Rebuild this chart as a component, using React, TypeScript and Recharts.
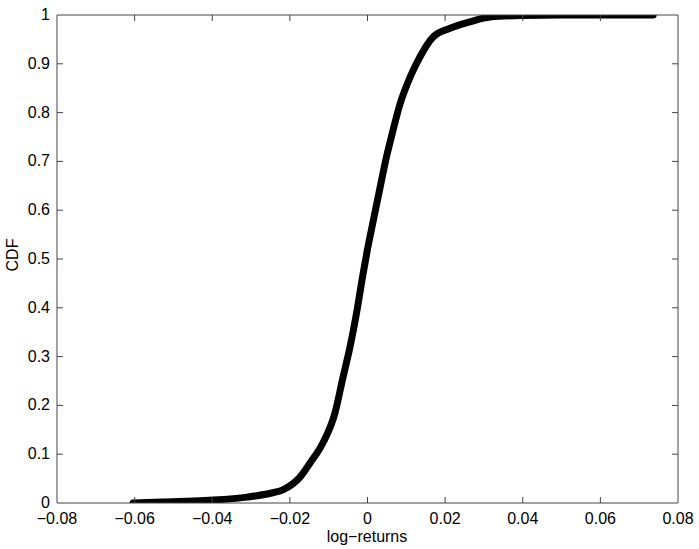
import React from "react";
import { Line, LineChart, XAxis, YAxis } from "recharts";

const RETURNS = [
  -0.0604, -0.0527, -0.045, -0.0398, -0.031, -0.025, -0.0218, -0.0174, -0.0148, -0.0115,
  -0.0084, -0.0063, -0.0045, -0.0027, -0.0012, 0, 0.0014, 0.0032, 0.005, 0.0063, 0.0084,
  0.011, 0.0135, 0.0169, 0.0213, 0.0264, 0.0316, 0.04, 0.05, 0.06, 0.0736,
];
const CDF = [
  0, 0.002, 0.004, 0.006, 0.012, 0.02, 0.027, 0.053, 0.082, 0.123, 0.184, 0.258, 0.32, 0.395,
  0.467, 0.52, 0.575, 0.645, 0.713, 0.755, 0.818, 0.873, 0.914, 0.955, 0.973, 0.986, 0.996,
  0.999, 1, 1, 1,
];
const X_TICKS = [-0.08, -0.06, -0.04, -0.02, 0, 0.02, 0.04, 0.06, 0.08];
const Y_TICKS = [0, 0.1, 0.2, 0.3, 0.4, 0.5, 0.6, 0.7, 0.8, 0.9, 1];

const data = RETURNS.map((x, i) => ({ x, y: CDF[i] }));

const FONT = "'Liberation Sans', Arial, Helvetica, sans-serif";
const AXIS = "#444";
const TICK_LEN = 6;

const fmt = (v: number) => (v < 0 ? "\u2212" + String(-v) : String(v));

function BottomTick({ x, y, payload }: any) {
  const edge = payload.value === -0.08 || payload.value === 0.08;
  return (
    <g>
      {!edge && <line x1={x} x2={x} y1={y} y2={y - TICK_LEN} stroke={AXIS} />}
      <text x={x} y={y + 21} textAnchor="middle" fontSize={16} fontFamily={FONT} fill="#000">
        {fmt(payload.value)}
      </text>
    </g>
  );
}

function LeftTick({ x, y, payload }: any) {
  const edge = payload.value === 0 || payload.value === 1;
  return (
    <g>
      {!edge && <line x1={x} x2={x + TICK_LEN} y1={y} y2={y} stroke={AXIS} />}
      <text x={x - 7} y={y + 5} textAnchor="end" fontSize={16} fontFamily={FONT} fill="#000">
        {payload.value}
      </text>
    </g>
  );
}

function TopTick({ x, y, payload }: any) {
  if (payload.value === -0.08 || payload.value === 0.08) return <g />;
  return <line x1={x} x2={x} y1={y} y2={y + TICK_LEN} stroke={AXIS} />;
}

function RightTick({ x, y, payload }: any) {
  if (payload.value === 0 || payload.value === 1) return <g />;
  return <line x1={x} x2={x - TICK_LEN} y1={y} y2={y} stroke={AXIS} />;
}

export default function App() {
  return (
    <div style={{ position: "absolute", left: 0, top: 0, background: "#fff" }}>
      <LineChart width={699} height={549} data={data} margin={{ top: 0, right: 0, bottom: 0, left: 0 }}>
        <XAxis
          xAxisId="b"
          dataKey="x"
          type="number"
          domain={[-0.08, 0.08]}
          ticks={X_TICKS}
          allowDataOverflow
          height={46}
          stroke={AXIS}
          tickSize={0}
          tickMargin={0}
          tick={BottomTick}
          tickLine={false}
        />
        <XAxis
          xAxisId="t"
          orientation="top"
          dataKey="x"
          type="number"
          domain={[-0.08, 0.08]}
          ticks={X_TICKS}
          allowDataOverflow
          height={15}
          stroke={AXIS}
          tickSize={0}
          tickMargin={0}
          tick={TopTick}
          tickLine={false}
        />
        <YAxis
          yAxisId="l"
          type="number"
          domain={[0, 1]}
          ticks={Y_TICKS}
          allowDataOverflow
          width={57}
          stroke={AXIS}
          tickSize={0}
          tickMargin={0}
          tick={LeftTick}
          tickLine={false}
        />
        <YAxis
          yAxisId="r"
          orientation="right"
          type="number"
          domain={[0, 1]}
          ticks={Y_TICKS}
          allowDataOverflow
          width={21}
          stroke={AXIS}
          tickSize={0}
          tickMargin={0}
          tick={RightTick}
          tickLine={false}
        />
        <Line
          xAxisId="b"
          yAxisId="l"
          dataKey="y"
          type="monotone"
          stroke="#000"
          strokeWidth={7}
          strokeLinecap="round"
          strokeLinejoin="round"
          dot={false}
          isAnimationActive={false}
        />
        <text x={367} y={542} textAnchor="middle" fontSize={16} fontFamily={FONT} fill="#000">
          log{"\u2212"}returns
        </text>
        <text
          x={18}
          y={255}
          textAnchor="middle"
          fontSize={16}
          fontFamily={FONT}
          fill="#000"
          transform="rotate(-90 18 255)"
        >
          CDF
        </text>
      </LineChart>
    </div>
  );
}
